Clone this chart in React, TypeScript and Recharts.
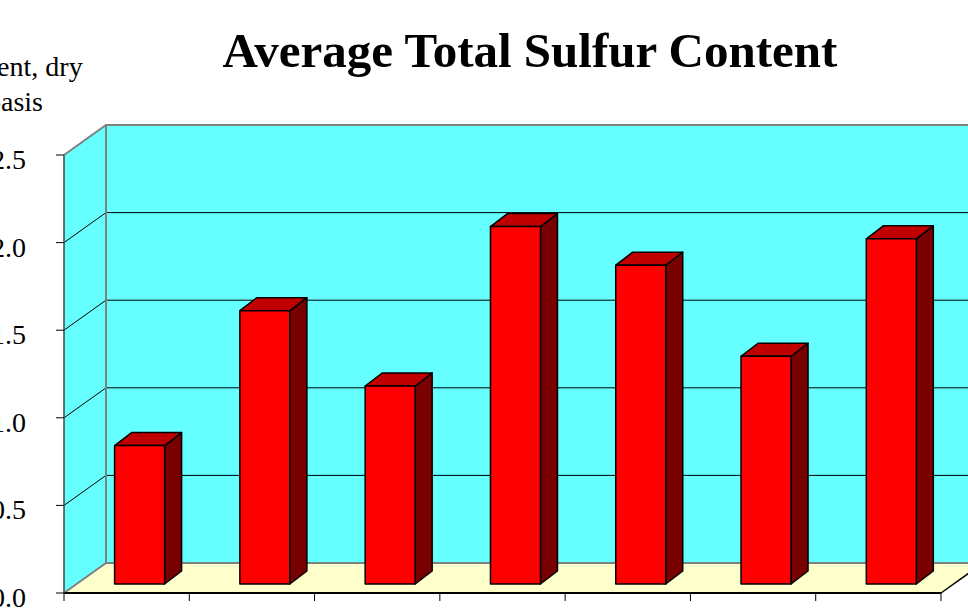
import { BarChart, Bar, XAxis, YAxis, ReferenceArea } from "recharts";

const categories = ["1", "2", "3", "4", "5", "6", "7"];
const sulfur = [0.79, 1.56, 1.13, 2.04, 1.82, 1.3, 1.97];
const yTicks = [0, 0.5, 1.0, 1.5, 2.0, 2.5];

const data = categories.map((c, i) => ({ name: c, value: sulfur[i] }));

const FONT = "'Times New Roman', 'Liberation Serif', serif";
// 3D projection of the plot box
const DEPTH_X = 42;
const DEPTH_Y = -30;
// bars sit 30% into the box
const BAR_DX = 12.6;
const BAR_DY = -9;
// bar's own depth
const BAR_DEPTH_X = 17;
const BAR_DEPTH_Y = -13;

const Walls = (props: any) => {
  const { x, y, width, height } = props;
  const bottom = y + height;
  const right = x + width;
  const maxV = yTicks[yTicks.length - 1];
  const yOf = (v: number) => bottom - (height * v) / maxV;
  return (
    <g>
      {/* floor */}
      <polygon
        points={`${x},${bottom} ${x + DEPTH_X},${bottom + DEPTH_Y} ${right + DEPTH_X},${bottom + DEPTH_Y} ${right},${bottom}`}
        fill="#ffffcc"
        stroke="none"
      />
      {/* left wall */}
      <polygon
        points={`${x},${bottom} ${x},${y} ${x + DEPTH_X},${y + DEPTH_Y} ${x + DEPTH_X},${bottom + DEPTH_Y}`}
        fill="#66ffff"
        stroke="none"
      />
      {/* back wall */}
      <rect
        x={x + DEPTH_X}
        y={y + DEPTH_Y}
        width={width}
        height={height}
        fill="#66ffff"
        stroke="none"
      />
      {yTicks
        .filter((v) => v > 0 && v < maxV)
        .map((v) => (
          <g key={v}>
            <line
              x1={x}
              y1={yOf(v)}
              x2={x + DEPTH_X}
              y2={yOf(v) + DEPTH_Y}
              stroke="#000"
              strokeWidth={1}
            />
            <line
              x1={x + DEPTH_X}
              y1={yOf(v) + DEPTH_Y}
              x2={right + DEPTH_X}
              y2={yOf(v) + DEPTH_Y}
              stroke="#000"
              strokeWidth={1}
            />
          </g>
        ))}
      {/* gray edges */}
      <polyline
        points={`${x},${y} ${x + DEPTH_X},${y + DEPTH_Y} ${right + DEPTH_X},${y + DEPTH_Y}`}
        fill="none"
        stroke="#808080"
        strokeWidth={2}
      />
      <line
        x1={x + DEPTH_X}
        y1={y + DEPTH_Y}
        x2={x + DEPTH_X}
        y2={bottom + DEPTH_Y}
        stroke="#808080"
        strokeWidth={2}
      />
      <polyline
        points={`${x},${bottom} ${x + DEPTH_X},${bottom + DEPTH_Y} ${right + DEPTH_X},${bottom + DEPTH_Y}`}
        fill="none"
        stroke="#808080"
        strokeWidth={2}
      />
      <line
        x1={right}
        y1={bottom}
        x2={right + DEPTH_X}
        y2={bottom + DEPTH_Y}
        stroke="#000"
        strokeWidth={1.5}
      />
    </g>
  );
};

const Bar3D = (props: any) => {
  const { x, y, width, height } = props;
  if (height == null || height <= 0) return null;
  const fx = x + BAR_DX;
  const fy = y + BAR_DY;
  const dx = BAR_DEPTH_X;
  const dy = BAR_DEPTH_Y;
  return (
    <g stroke="#000" strokeWidth={1.5} strokeLinejoin="round">
      <polygon
        points={`${fx + width},${fy} ${fx + width + dx},${fy + dy} ${fx + width + dx},${fy + height + dy} ${fx + width},${fy + height}`}
        fill="#780000"
      />
      <polygon
        points={`${fx},${fy} ${fx + dx},${fy + dy} ${fx + width + dx},${fy + dy} ${fx + width},${fy}`}
        fill="#c00000"
      />
      <rect x={fx} y={fy} width={width} height={height} fill="#ff0000" />
    </g>
  );
};

const BoundaryTick = (props: any) => {
  const { x, y, payload, index, visibleTicksCount, width } = props;
  const half =
    payload && typeof payload.offset === "number" && payload.offset > 0
      ? payload.offset
      : width / categories.length / 2;
  const xs = [x - half];
  if (index === (visibleTicksCount ?? categories.length) - 1) xs.push(x + half);
  return (
    <g>
      {xs.map((lx) => (
        <line key={lx} x1={lx} x2={lx} y1={y - 8} y2={y} stroke="#000" strokeWidth={1} />
      ))}
    </g>
  );
};

export default function App() {
  return (
    <div
      style={{
        position: "absolute",
        left: 0,
        top: 0,
        width: 968,
        height: 615,
        background: "#fff",
        overflow: "hidden",
      }}
    >
      <BarChart
        width={968}
        height={615}
        data={data}
        margin={{ top: 155, right: 27, bottom: 0, left: 0 }}
        barSize={50}
      >
        <ReferenceArea
          y1={0}
          y2={2.5}
          shape={<Walls />}
          ifOverflow="visible"
          zIndex={-100}
        />
        <XAxis
          dataKey="name"
          height={22}
          axisLine={{ stroke: "#000", strokeWidth: 2 }}
          tickLine={false}
          tickSize={8}
          tickMargin={0}
          tick={<BoundaryTick />}
          interval={0}
        />
        <YAxis
          width={64}
          domain={[0, 2.5]}
          ticks={yTicks}
          tickFormatter={(v: number) => v.toFixed(1)}
          axisLine={{ stroke: "#444", strokeWidth: 1.5 }}
          tickLine={{ stroke: "#000" }}
          tickSize={8}
          tickMargin={30}
          tick={{ fontSize: 28, fill: "#000", fontFamily: FONT, dy: 4 }}
        />
        <Bar
          dataKey="value"
          shape={<Bar3D />}
          isAnimationActive={false}
        />
      </BarChart>
      <svg
        width={968}
        height={615}
        style={{ position: "absolute", left: 0, top: 0, pointerEvents: "none" }}
      >
        <text
          x={530}
          y={67}
          textAnchor="middle"
          fontFamily={FONT}
          fontWeight="bold"
          fontSize={49}
          fill="#000"
        >
          Average Total Sulfur Content
        </text>
        <text x={15} y={76} textAnchor="middle" fontFamily={FONT} fontSize={28} fill="#000">
          Percent, dry
        </text>
        <text x={15} y={111} textAnchor="middle" fontFamily={FONT} fontSize={28} fill="#000">
          basis
        </text>
      </svg>
    </div>
  );
}
